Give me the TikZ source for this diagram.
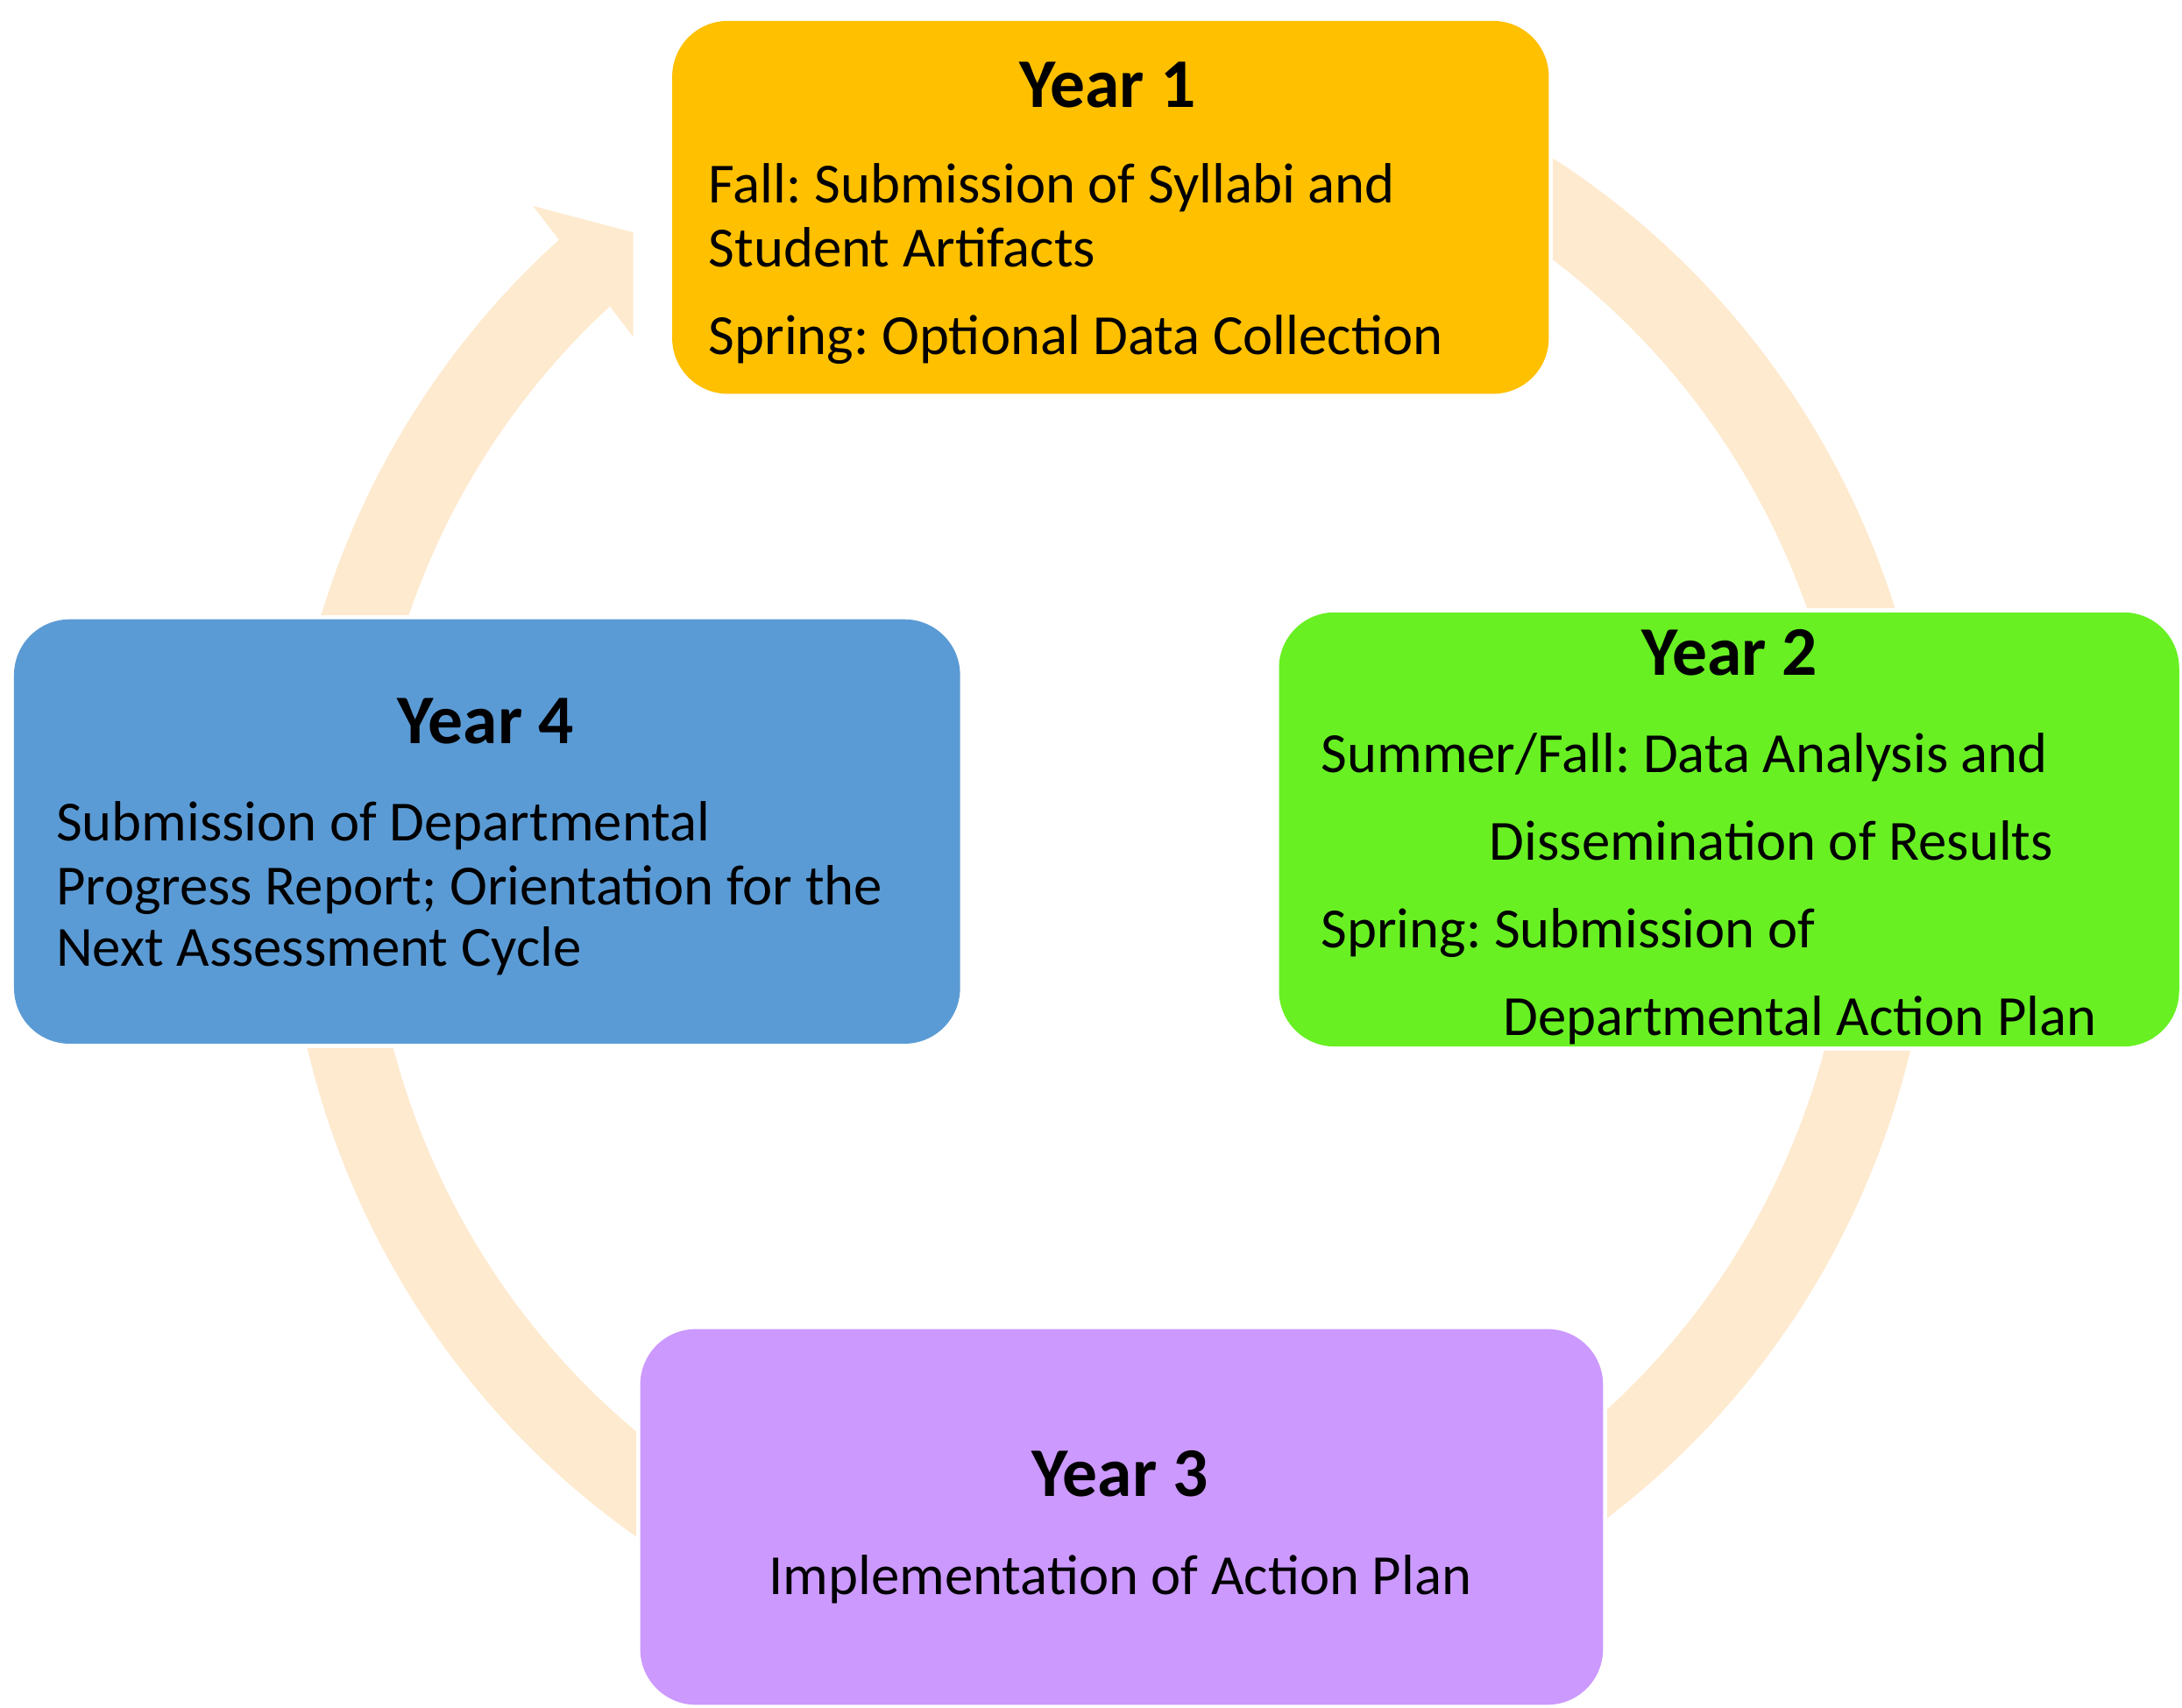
\documentclass[tikz,border=0pt]{standalone}
\usepackage{fontspec}
\setmainfont{Carlito}
\definecolor{yoneC}{RGB}{255,192,0}
\definecolor{ytwoC}{RGB}{104,240,35}
\definecolor{ythreeC}{RGB}{204,153,255}
\definecolor{yfourC}{RGB}{91,155,213}
\definecolor{ringC}{RGB}{254,234,207}
\begin{document}
\frenchspacing
\begin{tikzpicture}[x=0.02cm,y=-0.02cm,
  yearbox/.style={rectangle, rounded corners=0.8cm, inner sep=0pt},
  ttl/.style={inner sep=0pt, anchor=base, font=\bfseries\fontsize{28.5}{30}\selectfont},
  txt/.style={inner sep=0pt, anchor=base west, font=\fontsize{23.2}{26}\selectfont},
  txtc/.style={inner sep=0pt, anchor=base, font=\fontsize{23.2}{26}\selectfont}]
\useasboundingbox (0,0) rectangle (1568,1227);
% cycle ring
\draw[ringC, line width=1.2cm] (797,616) ++(-70:562 and 566)
  arc[start angle=-70, end angle=229, x radius=562, y radius=566];
\fill[ringC] (383,148) -- (455,167) -- (455,242) -- cycle;
% white margins
\fill[white] (480,12) rectangle (1116,286);
\fill[white] (916,437) rectangle (1568,755);
\fill[white] (7,442) rectangle (693,753);
\fill[white] (457,952) rectangle (1155,1227);
% boxes
\node[yearbox, fill=yoneC, minimum width=12.6cm, minimum height=5.36cm] (y1) at (798,149) {};
\node[yearbox, fill=ytwoC, minimum width=12.94cm, minimum height=6.24cm] (y2) at (1242.5,596) {};
\node[yearbox, fill=yfourC, minimum width=13.6cm, minimum height=6.1cm] (y4) at (350,597.5) {};
\node[yearbox, fill=ythreeC, minimum width=13.84cm, minimum height=5.4cm] (y3) at (806,1090) {};
% Year 1
\node[ttl] (t1) at (796,77) {Year 1};
\node[txt] (a1) at (509,146) {Fall: Submission of Syllabi and};
\node[txt] (b1) at (509,192) {Student Artifacts};
\node[txt] (c1) at (509,255) {Spring: Optional Data Collection};
% Year 2
\node[ttl] (t2) at (1243,485) {Year 2};
\node[txt] (a2) at (949,555) {Summer/Fall: Data Analysis and};
\node[txt] (b2) at (1070,618) {Dissemination of Results};
\node[txt] (c2) at (949,681) {Spring: Submission of};
\node[txt] (d2) at (1080,744) {Departmental Action Plan};
% Year 4
\node[ttl] (t4) at (349,534) {Year 4};
\node[txt] (a4) at (40,604) {Submission of Departmental};
\node[txt] (b4) at (40,650) {Progress Report; Orientation for the};
\node[txt] (c4) at (40,694) {Next Assessment Cycle};
% Year 3
\node[ttl] (t3) at (805,1075) {Year 3};
\node[txtc] (a3) at (805,1146) {Implementation of Action Plan};
\end{tikzpicture}
\end{document}
